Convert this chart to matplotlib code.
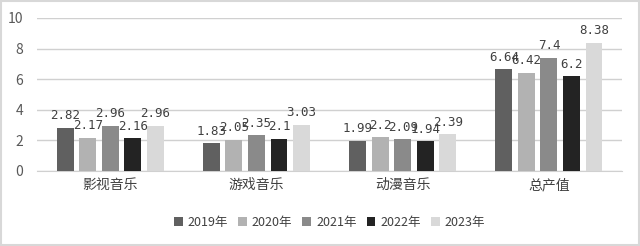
import matplotlib
matplotlib.use("Agg")
from matplotlib import pyplot as plt
from matplotlib.patches import Rectangle
import numpy as np

plt.rcParams['font.family'] = ['Noto Sans CJK SC', 'DejaVu Sans']

kategorier = ["影视音乐", "游戏音乐", "动漫音乐", "总产值"]
aar = ["2019年", "2020年", "2021年", "2022年", "2023年"]
v2019 = [2.82, 1.83, 1.99, 6.64]
v2020 = [2.17, 2.05, 2.2, 6.42]
v2021 = [2.96, 2.35, 2.09, 7.4]
v2022 = [2.16, 2.1, 1.94, 6.2]
v2023 = [2.96, 3.03, 2.39, 8.38]
serier = [v2019, v2020, v2021, v2022, v2023]
farger = ["#606060", "#b2b2b2", "#8a8a8a", "#232323", "#d9d9d9"]

fig = plt.figure(figsize=(6.4, 2.46), dpi=100)
ax = fig.add_axes([0.058, 0.305, 0.914, 0.622])

x = np.arange(len(kategorier))
pitch = 0.154
bredde = 0.116
for i, (verdier, farge) in enumerate(zip(serier, farger)):
    pos = x + (i - 2) * pitch
    ax.bar(pos, verdier, bredde, color=farge, label=aar[i], zorder=3)
    for p, v in zip(pos, verdier):
        ax.text(p, v + 0.35, f"{v:g}", ha="center", va="bottom",
                fontsize=9, family="DejaVu Sans Mono", color="#404040", zorder=4)

ax.set_xlim(-0.5, 3.5)
ax.set_ylim(0, 10)
ax.set_yticks([0, 2, 4, 6, 8, 10])
ax.set_xticks(x)
ax.set_xticklabels(kategorier, fontsize=10, color="#404040")
ax.tick_params(axis="y", labelsize=10, labelcolor="#595959", length=0, pad=10)
ax.tick_params(axis="x", length=0, pad=5)
ax.grid(axis="y", color="#d0d0d0", linewidth=1, zorder=0)
for s in ["top", "right", "left"]:
    ax.spines[s].set_visible(False)
ax.spines["bottom"].set_color("#d0d0d0")

ax.legend(loc="upper center", bbox_to_anchor=(0.5, -0.22), ncol=5, frameon=False,
          fontsize=9, handlelength=0.7, handleheight=0.7, handletextpad=0.4,
          columnspacing=0.8, labelcolor="#404040")

fig.patches.append(Rectangle((0.002, 0.004), 0.996, 0.992, transform=fig.transFigure,
                             fill=False, edgecolor="#d8d8d8", linewidth=1.5))

fig.savefig("out.png", dpi=100)
